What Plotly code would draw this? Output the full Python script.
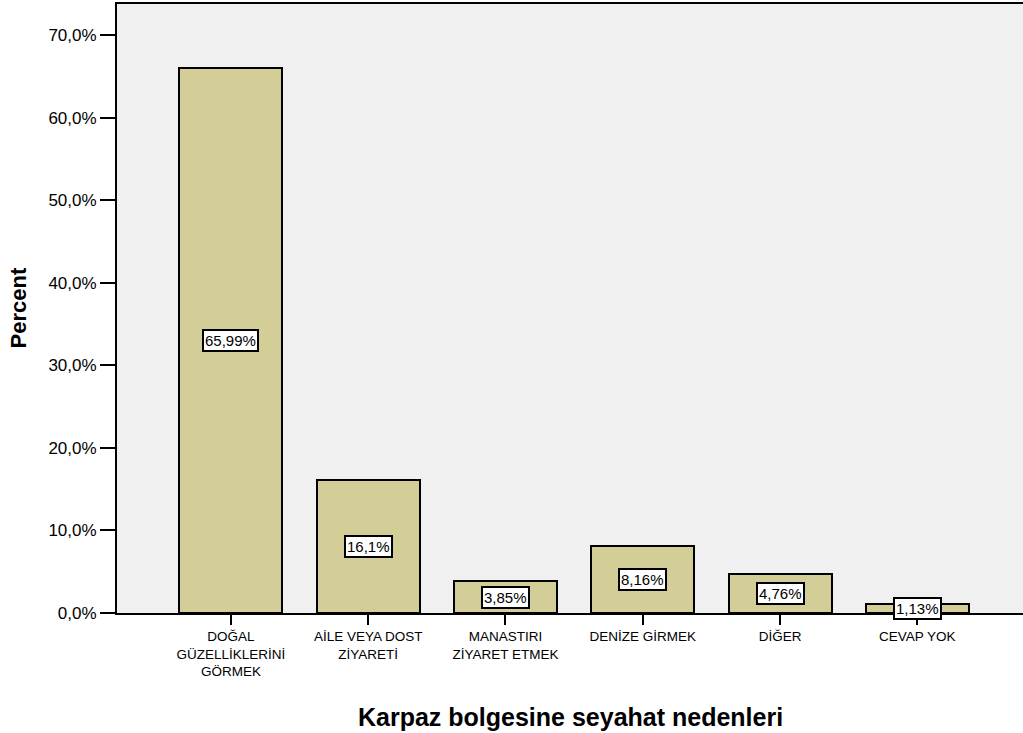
import plotly.graph_objects as go

categories = ["DOĞAL<br>GÜZELLİKLERİNİ<br>GÖRMEK", "AİLE VEYA DOST<br>ZİYARETİ",
              "MANASTIRI<br>ZİYARET ETMEK", "DENİZE GİRMEK", "DİĞER", "CEVAP YOK"]
percent = [65.99, 16.1, 3.85, 8.16, 4.76, 1.13]
bar_labels = ["65,99%", "16,1%", "3,85%", "8,16%", "4,76%", "1,13%"]
tick_vals = [0, 10, 20, 30, 40, 50, 60, 70]
tick_text = ["0,0%", "10,0%", "20,0%", "30,0%", "40,0%", "50,0%", "60,0%", "70,0%"]

FONT = "Liberation Sans, Arial, sans-serif"

fig = go.Figure()
fig.add_trace(go.Bar(
    x=list(range(len(categories))), y=percent, width=0.75,
    marker=dict(color="#D3CE98", line=dict(color="black", width=2)),
    hoverinfo="skip",
))

for i, (v, t) in enumerate(zip(percent, bar_labels)):
    fig.add_annotation(x=i, y=v / 2, text=t, showarrow=False,
                       font=dict(family=FONT, size=15, color="black"),
                       bgcolor="white", bordercolor="black", borderwidth=2,
                       borderpad=1)

fig.add_annotation(xref="paper", yref="paper", x=0.5, y=0, yshift=-104,
                   text="<b>Karpaz bolgesine seyahat nedenleri</b>", showarrow=False,
                   font=dict(family=FONT, size=25, color="black"), yanchor="middle")
fig.add_annotation(xref="paper", yref="paper", x=0, y=0.5, xshift=-99,
                   text="<b>Percent</b>", showarrow=False, textangle=-90,
                   font=dict(family=FONT, size=22, color="black"), xanchor="center")

fig.update_layout(
    width=1023, height=733,
    margin=dict(l=117, r=0, t=4, b=120),
    paper_bgcolor="white", plot_bgcolor="#F0F0F0",
    showlegend=False, bargap=0,
    font=dict(family=FONT, color="black"),
    xaxis=dict(range=[-0.83, 5.77], tickmode="array",
               tickvals=list(range(len(categories))), ticktext=categories,
               ticks="outside", ticklen=10, tickwidth=2, tickcolor="black",
               showline=True, linecolor="black", linewidth=2, mirror=True,
               showgrid=False, zeroline=False,
               tickfont=dict(family=FONT, size=13.5, color="black")),
    yaxis=dict(range=[0, 73.76], tickmode="array", tickvals=tick_vals, ticktext=tick_text,
               ticks="outside", ticklen=15, tickwidth=2, tickcolor="black",
               showline=True, linecolor="black", linewidth=2,
               showgrid=False, zeroline=False,
               tickfont=dict(family=FONT, size=17, color="black")),
)

fig.write_html("out.html", config={"displayModeBar": False},
               post_script="document.body.style.margin='0px';document.body.style.overflow='hidden';")
